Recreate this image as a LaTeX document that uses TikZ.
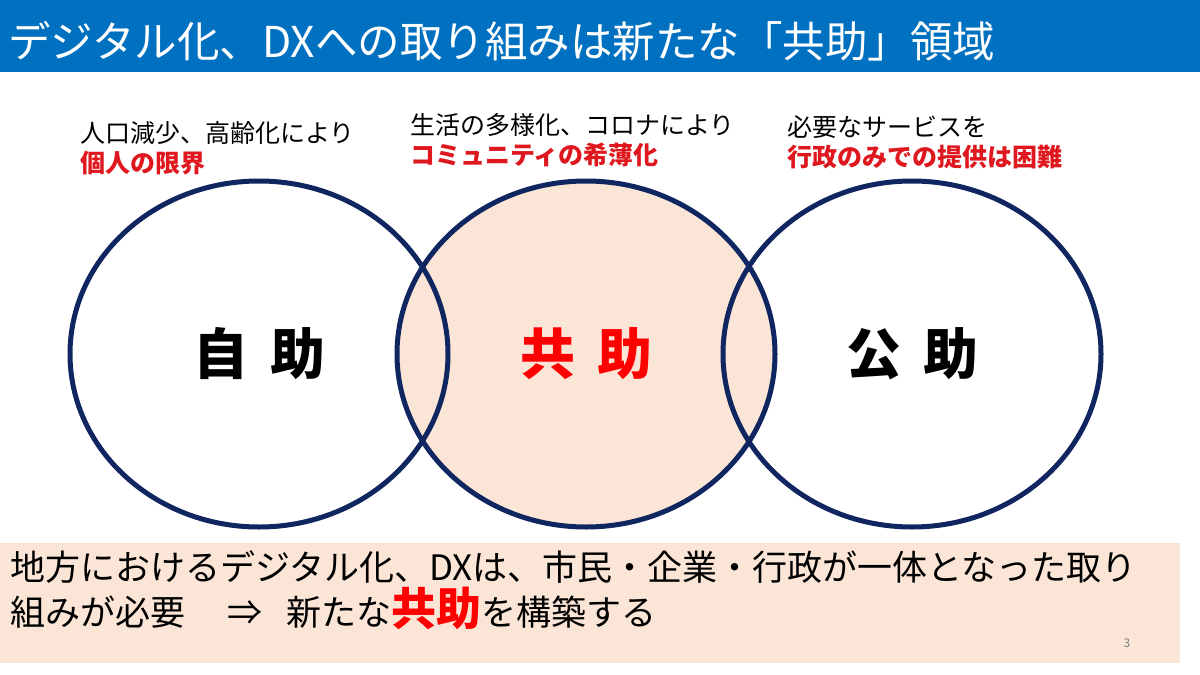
\documentclass[tikz,border=0pt]{standalone}
\usepackage{fontspec}
\setmainfont{Noto Sans CJK JP}
\usetikzlibrary{shapes.geometric}

\definecolor{titleblue}{RGB}{0,112,192}
\definecolor{ringblue}{RGB}{16,38,96}
\definecolor{peach}{RGB}{251,229,214}
\definecolor{labelred}{RGB}{222,24,30}
\definecolor{keyred}{RGB}{255,0,0}
\newcommand{\pxsize}[1]{\fontsize{#1}{#1}\selectfont}

\begin{document}
\begin{tikzpicture}[x=1pt,y=-1pt,
  ring/.style={ellipse,draw=ringblue,line width=5pt,minimum width=378pt,
    minimum height=346pt,inner sep=0pt,font=\pxsize{55}\bfseries},
  note/.style={anchor=base west,inner sep=0pt,font=\pxsize{25}},
  warn/.style={anchor=base west,inner sep=0pt,font=\pxsize{25}\bfseries,text=labelred},
  body/.style={anchor=base west,inner sep=0pt,font=\pxsize{35}}]

 \useasboundingbox (0,0) rectangle (1200,675);

 % title bar
 \fill[titleblue] (0,0) rectangle (1200,72);
 \node[anchor=base west,inner sep=0pt,text=white,font=\pxsize{42.5}] (title) at (8,57)
   {デジタル化、DXへの取り組みは新たな「共助」領域};

 % three circles
 \node[ring,fill=peach,text=keyred] (kyojo) at (586,354) {共\hspace{22pt}助};
 \node[ring] (jijo) at (259,354) {自\hspace{22pt}助};
 \node[ring] (kojo) at (912,354) {公\hspace{22pt}助};

 % notes above the circles
 \node[note] (jijo note) at (80,142) {人口減少、高齢化により};
 \node[warn] (jijo warn) at (80,172) {個人の限界};
 \node[note] (kyojo note) at (410,134) {生活の多様化、コロナにより};
 \node[warn] (kyojo warn) at (410,164) {コミュニティの希薄化};
 \node[note] (kojo note) at (787,136) {必要なサービスを};
 \node[warn] (kojo warn) at (787,166) {行政のみでの提供は困難};

 % bottom message
 \fill[peach] (0,543) rectangle (1180,663);
 \node[body] (msg a) at (10,580) {地方におけるデジタル化、DXは、市民・企業・行政が一体となった取り};
 \node[body] (msg b) at (10,625) {組みが必要\hspace{42pt}⇒\hspace{24pt}新たな{\color{keyred}\pxsize{45}\bfseries 共助}を構築する};
 \node[font=\pxsize{12},text=gray] (page) at (1127,643) {3};
\end{tikzpicture}
\end{document}
